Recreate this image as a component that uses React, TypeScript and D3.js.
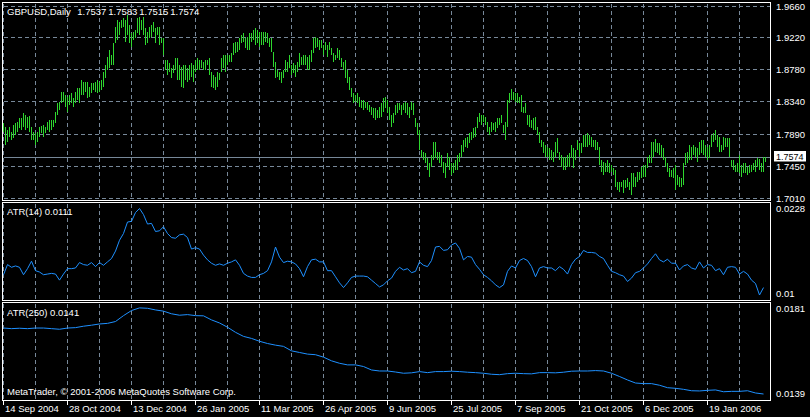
import React from "react";
import * as d3 from "d3";

// ---------- DATA ----------
const symbolTitle = "GBPUSD,Daily";
const lastBar = [1.7537, 1.7583, 1.7515, 1.7574]; // O H L C
const lastClose = 1.7574;
const atr14Last = "0.0111";
const atr250Last = "0.0141";
const copyright = "MetaTrader, \u00A9 2001-2006 MetaQuotes Software Corp.";

const highs = [
  1.8043, 1.7997, 1.7951, 1.7997, 1.7928, 1.8020, 1.8043, 1.8066, 1.8112, 1.8112,
  1.8181, 1.8158, 1.8135, 1.8145, 1.7997, 1.7928, 1.7906, 1.7928, 1.7997, 1.8006,
  1.8020, 1.7997, 1.8066, 1.8089, 1.8089, 1.8089, 1.8204, 1.8319, 1.8342, 1.8480,
  1.8480, 1.8434, 1.8411, 1.8434, 1.8457, 1.8388, 1.8480, 1.8526, 1.8526, 1.8640,
  1.8617, 1.8617, 1.8617, 1.8549, 1.8594, 1.8594, 1.8617, 1.8640, 1.8617, 1.8640,
  1.8755, 1.8847, 1.8962, 1.9054, 1.8985, 1.9146, 1.9375, 1.9467, 1.9444, 1.9467,
  1.9490, 1.9467, 1.9536, 1.9398, 1.9283, 1.9306, 1.9329, 1.9490, 1.9513, 1.9467,
  1.9513, 1.9352, 1.9306, 1.9375, 1.9398, 1.9444, 1.9352, 1.9375, 1.9375, 1.9215,
  1.9215, 1.8916, 1.8916, 1.8870, 1.8801, 1.8847, 1.8939, 1.8939, 1.8847, 1.8824,
  1.8847, 1.8847, 1.8801, 1.8847, 1.8870, 1.8847, 1.8916, 1.8939, 1.8916, 1.8916,
  1.8893, 1.8916, 1.8916, 1.8939, 1.8755, 1.8709, 1.8686, 1.8755, 1.8732, 1.8939,
  1.8985, 1.8985, 1.8985, 1.8985, 1.9008, 1.9146, 1.9169, 1.9169, 1.9215, 1.9260,
  1.9283, 1.9215, 1.9237, 1.9283, 1.9283, 1.9329, 1.9352, 1.9329, 1.9306, 1.9306,
  1.9306, 1.9306, 1.9283, 1.9215, 1.9215, 1.9031, 1.8893, 1.8778, 1.8755, 1.8755,
  1.8778, 1.8916, 1.8893, 1.8985, 1.8847, 1.8870, 1.8847, 1.8893, 1.9008, 1.8962,
  1.8985, 1.8985, 1.8962, 1.8985, 1.9054, 1.9215, 1.9237, 1.9215, 1.9192, 1.9192,
  1.9123, 1.9169, 1.9123, 1.9169, 1.9077, 1.9008, 1.8985, 1.9077, 1.9054, 1.8939,
  1.8893, 1.8916, 1.8778, 1.8686, 1.8526, 1.8457, 1.8434, 1.8457, 1.8411, 1.8365,
  1.8365, 1.8342, 1.8342, 1.8296, 1.8273, 1.8250, 1.8250, 1.8227, 1.8273,
  1.8319, 1.8388, 1.8411, 1.8365, 1.8273, 1.8158, 1.8181, 1.8296, 1.8319, 1.8319, 1.8296,
  1.8319, 1.8342, 1.8319, 1.8273, 1.8342, 1.8319, 1.8112, 1.8043, 1.7951, 1.7676,
  1.7653, 1.7630, 1.7561, 1.7492, 1.7607, 1.7791, 1.7791, 1.7653, 1.7653, 1.7607,
  1.7515, 1.7492, 1.7630, 1.7584, 1.7492, 1.7492, 1.7538, 1.7607, 1.7630, 1.7745,
  1.7814, 1.7837, 1.7860, 1.7906, 1.7928, 1.7974, 1.7997, 1.8135, 1.8181, 1.8158,
  1.8158, 1.8135, 1.8066, 1.7997, 1.8066, 1.8043, 1.8066, 1.8112, 1.8112, 1.8158,
  1.8020, 1.8066, 1.8365, 1.8457, 1.8512, 1.8480, 1.8457, 1.8457, 1.8411, 1.8434,
  1.8273, 1.8319, 1.8158, 1.8158, 1.8089, 1.8112, 1.8135, 1.7997, 1.7928, 1.7814,
  1.7791, 1.7745, 1.7722, 1.7699, 1.7676, 1.7653, 1.7791, 1.7837, 1.7653, 1.7607,
  1.7584, 1.7584, 1.7607, 1.7630, 1.7745, 1.7699, 1.7676, 1.7814, 1.7768, 1.7768,
  1.7883, 1.7883, 1.7906, 1.7883, 1.7860, 1.7814, 1.7814, 1.7791, 1.7722, 1.7538,
  1.7515, 1.7492, 1.7538, 1.7492, 1.7469, 1.7423, 1.7401, 1.7240, 1.7240, 1.7240,
  1.7263, 1.7263, 1.7286, 1.7240, 1.7355, 1.7355, 1.7309, 1.7378, 1.7378, 1.7446,
  1.7469, 1.7469, 1.7584, 1.7607, 1.7791, 1.7791, 1.7823, 1.7768, 1.7768, 1.7745,
  1.7699, 1.7584, 1.7492, 1.7423, 1.7401, 1.7423, 1.7469, 1.7332, 1.7309, 1.7286,
  1.7492, 1.7630, 1.7653, 1.7745, 1.7722, 1.7745, 1.7722, 1.7699, 1.7791, 1.7814,
  1.7814, 1.7745, 1.7722, 1.7745, 1.7883, 1.7906, 1.7951, 1.7883, 1.7860, 1.7745,
  1.7860, 1.7837, 1.7837, 1.7837, 1.7538, 1.7538, 1.7469, 1.7492, 1.7607, 1.7469,
  1.7492, 1.7492, 1.7446, 1.7469, 1.7469, 1.7492, 1.7538, 1.7561, 1.7547, 1.7492, 1.7584, 1.7583,
];

const lows = [
  1.7928, 1.7745, 1.7791, 1.7860, 1.7814, 1.7837, 1.7883, 1.7928, 1.7974, 1.7951,
  1.7997, 1.7951, 1.7974, 1.7928, 1.7814, 1.7814, 1.7745, 1.7791, 1.7860, 1.7906,
  1.7860, 1.7906, 1.7951, 1.7928, 1.7951, 1.7997, 1.8043, 1.8158, 1.8227, 1.8319,
  1.8342, 1.8273, 1.8204, 1.8296, 1.8319, 1.8273, 1.8319, 1.8365, 1.8319, 1.8434,
  1.8434, 1.8480, 1.8388, 1.8411, 1.8457, 1.8503, 1.8480, 1.8457, 1.8480, 1.8503,
  1.8549, 1.8663, 1.8778, 1.8801, 1.8847, 1.8847, 1.9146, 1.9192, 1.9260, 1.9352,
  1.9375, 1.9169, 1.9260, 1.9146, 1.9100, 1.9192, 1.9215, 1.9283, 1.9260, 1.9329,
  1.9260, 1.9123, 1.9146, 1.9215, 1.9237, 1.9306, 1.9146, 1.9260, 1.9123, 1.9146,
  1.8985, 1.8778, 1.8709, 1.8755, 1.8663, 1.8732, 1.8778, 1.8640, 1.8640, 1.8549,
  1.8526, 1.8640, 1.8617, 1.8640, 1.8686, 1.8617, 1.8755, 1.8778, 1.8778, 1.8801,
  1.8778, 1.8778, 1.8847, 1.8709, 1.8549, 1.8526, 1.8503, 1.8549, 1.8640, 1.8755,
  1.8801, 1.8755, 1.8847, 1.8893, 1.8893, 1.8985, 1.9008, 1.9031, 1.9054, 1.9146,
  1.9169, 1.9077, 1.9054, 1.9054, 1.9169, 1.9192, 1.9123, 1.9146, 1.9100, 1.9123,
  1.9123, 1.9169, 1.9146, 1.9100, 1.9031, 1.8824, 1.8663, 1.8686, 1.8640, 1.8594,
  1.8663, 1.8755, 1.8755, 1.8801, 1.8709, 1.8732, 1.8686, 1.8755, 1.8824, 1.8847,
  1.8847, 1.8847, 1.8778, 1.8778, 1.8893, 1.9008, 1.9077, 1.9100, 1.9054, 1.9077,
  1.8985, 1.9054, 1.8962, 1.9054, 1.8985, 1.8893, 1.8916, 1.8939, 1.8916, 1.8824,
  1.8778, 1.8663, 1.8594, 1.8503, 1.8411, 1.8319, 1.8342, 1.8319, 1.8273, 1.8250,
  1.8227, 1.8250, 1.8227, 1.8204, 1.8158, 1.8112, 1.8089, 1.8112, 1.8112,
  1.8135, 1.8204, 1.8250, 1.8181, 1.8089, 1.7997, 1.8043, 1.8158, 1.8181, 1.8227, 1.8158,
  1.8227, 1.8181, 1.8158, 1.8112, 1.8227, 1.8158, 1.7997, 1.7883, 1.7676, 1.7584,
  1.7538, 1.7492, 1.7401, 1.7309, 1.7446, 1.7538, 1.7561, 1.7538, 1.7492, 1.7446,
  1.7355, 1.7286, 1.7446, 1.7401, 1.7332, 1.7355, 1.7401, 1.7401, 1.7515, 1.7584,
  1.7653, 1.7722, 1.7699, 1.7768, 1.7814, 1.7837, 1.7860, 1.7974, 1.8066, 1.8020,
  1.8066, 1.8020, 1.7928, 1.7883, 1.7928, 1.7951, 1.7928, 1.7974, 1.8020, 1.8043,
  1.7906, 1.7814, 1.7997, 1.8319, 1.8365, 1.8365, 1.8342, 1.8319, 1.8319, 1.8204,
  1.8181, 1.8181, 1.8020, 1.7997, 1.7974, 1.7951, 1.7951, 1.7883, 1.7768, 1.7722,
  1.7630, 1.7584, 1.7584, 1.7538, 1.7538, 1.7515, 1.7584, 1.7630, 1.7538, 1.7446,
  1.7401, 1.7401, 1.7446, 1.7446, 1.7561, 1.7423, 1.7538, 1.7676, 1.7584, 1.7630,
  1.7722, 1.7722, 1.7722, 1.7745, 1.7722, 1.7722, 1.7676, 1.7676, 1.7469, 1.7378,
  1.7332, 1.7378, 1.7378, 1.7355, 1.7378, 1.7332, 1.7171, 1.7125, 1.7102, 1.7171,
  1.7079, 1.7148, 1.7171, 1.7125, 1.7056, 1.7171, 1.7171, 1.7240, 1.7263, 1.7286,
  1.7309, 1.7309, 1.7423, 1.7492, 1.7492, 1.7584, 1.7653, 1.7630, 1.7607, 1.7584,
  1.7538, 1.7446, 1.7378, 1.7309, 1.7309, 1.7286, 1.7125, 1.7194, 1.7171, 1.7171,
  1.7194, 1.7469, 1.7492, 1.7538, 1.7538, 1.7607, 1.7584, 1.7515, 1.7607, 1.7630,
  1.7607, 1.7584, 1.7538, 1.7561, 1.7722, 1.7791, 1.7814, 1.7722, 1.7653, 1.7653,
  1.7676, 1.7722, 1.7722, 1.7584, 1.7446, 1.7401, 1.7378, 1.7378, 1.7355, 1.7309,
  1.7355, 1.7355, 1.7332, 1.7355, 1.7378, 1.7401, 1.7378, 1.7446, 1.7401, 1.7378, 1.7378, 1.7515,
];

// ATR(14), one reading every 2 bars
const atr14Step = 2;
const atr14 = [
  0.0130, 0.0145, 0.0141, 0.0143, 0.0141, 0.0130, 0.0139, 0.0150, 0.0136, 0.0134,
  0.0130, 0.0131, 0.0132, 0.0131, 0.0122, 0.0131, 0.0139, 0.0139, 0.0140, 0.0148,
  0.0145, 0.0144, 0.0148, 0.0142, 0.0148, 0.0144, 0.0149, 0.0154, 0.0165, 0.0181,
  0.0191, 0.0208, 0.0209, 0.0222, 0.0228, 0.0219, 0.0205, 0.0206, 0.0194, 0.0195,
  0.0201, 0.0191, 0.0185, 0.0184, 0.0189, 0.0190, 0.0185, 0.0168, 0.0170, 0.0168,
  0.0159, 0.0152, 0.0147, 0.0144, 0.0146, 0.0144, 0.0147, 0.0149, 0.0152, 0.0144,
  0.0132, 0.0128, 0.0126, 0.0126, 0.0130, 0.0132, 0.0136, 0.0149, 0.0171, 0.0156,
  0.0148, 0.0150, 0.0149, 0.0146, 0.0139, 0.0127, 0.0142, 0.0152, 0.0153, 0.0149,
  0.0149, 0.0136, 0.0136, 0.0127, 0.0118, 0.0111, 0.0118, 0.0126, 0.0128, 0.0128,
  0.0128, 0.0127, 0.0122, 0.0117, 0.0112, 0.0115, 0.0121, 0.0125, 0.0135, 0.0141,
  0.0137, 0.0139, 0.0133, 0.0135, 0.0149, 0.0144, 0.0142, 0.0151, 0.0171, 0.0172,
  0.0166, 0.0167, 0.0174, 0.0177, 0.0169, 0.0152, 0.0157, 0.0156, 0.0145, 0.0138,
  0.0130, 0.0126, 0.0121, 0.0115, 0.0111, 0.0115, 0.0135, 0.0143, 0.0140, 0.0151,
  0.0154, 0.0151, 0.0142, 0.0127, 0.0140, 0.0142, 0.0140, 0.0140, 0.0136, 0.0142,
  0.0138, 0.0131, 0.0145, 0.0153, 0.0157, 0.0166, 0.0163, 0.0163, 0.0162, 0.0157,
  0.0154, 0.0144, 0.0135, 0.0133, 0.0130, 0.0128, 0.0120, 0.0125, 0.0133, 0.0135,
  0.0140, 0.0146, 0.0154, 0.0161, 0.0152, 0.0149, 0.0153, 0.0147, 0.0147, 0.0137,
  0.0143, 0.0145, 0.0140, 0.0138, 0.0149, 0.0140, 0.0145, 0.0144, 0.0136, 0.0139,
  0.0130, 0.0141, 0.0142, 0.0141, 0.0131, 0.0135, 0.0131, 0.0122, 0.0117, 0.0100, 0.0111,
];

// ATR(250), one reading every 4 bars
const atr250Step = 4;
const atr250 = [
  0.01714, 0.01711, 0.01713, 0.01711, 0.01714, 0.01714, 0.01711, 0.01708, 0.01714, 0.01716,
  0.01723, 0.01728, 0.01734, 0.01737, 0.01746, 0.01775, 0.01800, 0.01813, 0.01811, 0.01803,
  0.01797, 0.01784, 0.01777, 0.01780, 0.01775, 0.01774, 0.01754, 0.01739, 0.01718, 0.01693,
  0.01673, 0.01663, 0.01649, 0.01638, 0.01630, 0.01624, 0.01602, 0.01594, 0.01586, 0.01583,
  0.01571, 0.01553, 0.01541, 0.01533, 0.01533, 0.01525, 0.01508, 0.01503, 0.01503, 0.01498,
  0.01492, 0.01494, 0.01500, 0.01495, 0.01500, 0.01500, 0.01502, 0.01500, 0.01497, 0.01495,
  0.01492, 0.01487, 0.01485, 0.01490, 0.01492, 0.01490, 0.01489, 0.01495, 0.01495, 0.01494,
  0.01497, 0.01502, 0.01503, 0.01503, 0.01505, 0.01503, 0.01492, 0.01476, 0.01459, 0.01444,
  0.01441, 0.01441, 0.01433, 0.01421, 0.01418, 0.01413, 0.01406, 0.01405, 0.01408, 0.01410,
  0.01401, 0.01403, 0.01403, 0.01406, 0.01395, 0.01390,
];

const priceTicks = [1.966, 1.922, 1.878, 1.834, 1.789, 1.745, 1.701];
const priceDomain = [1.701, 1.966];
const atr14Domain = [0.01, 0.0228];
const atr14Labels = ["0.0228", "0.01"];
const atr250Domain = [0.0139, 0.0181];
const atr250Labels = ["0.0181", "0.0139"];

const dateLabels = [
  "14 Sep 2004", "28 Oct 2004", "13 Dec 2004", "26 Jan 2005", "11 Mar 2005", "26 Apr 2005",
  "9 Jun 2005", "25 Jul 2005", "7 Sep 2005", "21 Oct 2005", "6 Dec 2005", "19 Jan 2006",
];
const dateLabelBars = [0, 32, 64, 96, 128, 160, 192, 224, 256, 288, 320, 352];
const gridBarStep = 16;

// ---------- STYLE ----------
const W = 810;
const H = 417;
const BG = "#000000";
const FG = "#ffffff";
const GRID = "#778899";
const BAR = "#2ed62e";
const LINE = "#1e90ff";
const FONT = "'Liberation Sans', Arial, sans-serif";
const FS = 9.5;

const left = 2.5;
const right = 770.5;
const panels = {
  main: { top: 2.5, bottom: 200.5 },
  a14: { top: 202.5, bottom: 300.5 },
  a250: { top: 302.5, bottom: 400.5 },
};

export default function App() {
  const n = highs.length;
  const x = d3.scaleLinear().domain([0, n - 1]).range([3.5, 3.5 + 2 * (n - 1)]);
  const yP = d3.scaleLinear().domain(priceDomain).range([198.5, 6]);
  const y14 = d3.scaleLinear().domain(atr14Domain).range([295, 208.5]);
  const y250 = d3.scaleLinear().domain(atr250Domain).range([394, 308.5]);

  const line14 = d3
    .line<number>()
    .x((_, k) => x(k * atr14Step))
    .y((v) => y14(v));
  const line250 = d3
    .line<number>()
    .x((_, k) => x(k * atr250Step))
    .y((v) => y250(v));

  const gridBars = d3.range(0, n, gridBarStep);
  const crisp = (v: number) => Math.round(v - 0.5) + 0.5;
  const yClose = crisp(yP(lastClose));

  const textStyle: React.CSSProperties = { fontFamily: FONT, fontSize: FS };

  return (
    <svg
      width={W}
      height={H}
      viewBox={`0 0 ${W} ${H}`}
      style={{ position: "absolute", left: 0, top: 0, display: "block", background: BG }}
    >
      <rect x={0} y={0} width={W} height={H} fill={BG} />

      {/* vertical grid */}
      <g stroke={GRID} strokeWidth={1} strokeDasharray="4,3" shapeRendering="crispEdges">
        {Object.values(panels).map((p, pi) =>
          gridBars.map((b) => (
            <line key={`vg${pi}-${b}`} x1={x(b)} x2={x(b)} y1={p.top + 1} y2={p.bottom} />
          ))
        )}
        {priceTicks.map((t) => (
          <line key={`hg${t}`} x1={left + 1} x2={right} y1={crisp(yP(t))} y2={crisp(yP(t))} />
        ))}
      </g>

      {/* price line */}
      <line
        x1={left + 1}
        x2={right}
        y1={yClose}
        y2={yClose}
        stroke={GRID}
        strokeWidth={1}
        shapeRendering="crispEdges"
      />

      {/* bars */}
      <g stroke={BAR} strokeWidth={1} shapeRendering="crispEdges">
        {highs.map((h, i) => {
          const y1 = Math.round(yP(h));
          const y2 = Math.max(Math.round(yP(lows[i])), y1 + 1);
          return <line key={i} x1={x(i)} x2={x(i)} y1={y1} y2={y2} />;
        })}
      </g>

      {/* ATR lines */}
      <path d={line14(atr14) || ""} fill="none" stroke={LINE} strokeWidth={1} />
      <path d={line250(atr250) || ""} fill="none" stroke={LINE} strokeWidth={1} />

      {/* panel frames */}
      <g fill="none" stroke={FG} strokeWidth={1} shapeRendering="crispEdges">
        {Object.values(panels).map((p, pi) => (
          <rect key={pi} x={left} y={p.top} width={right - left} height={p.bottom - p.top} />
        ))}
      </g>

      {/* date axis */}
      <g stroke={FG} strokeWidth={1} shapeRendering="crispEdges">
        {dateLabelBars.map((b) => (
          <line key={`dt${b}`} x1={x(b)} x2={x(b)} y1={400.5} y2={405} />
        ))}
      </g>
      <g fill={FG} style={textStyle}>
        {dateLabelBars.map((b, k) => (
          <text key={`dl${b}`} x={x(b) + 1.5} y={411.5}>
            {dateLabels[k]}
          </text>
        ))}
      </g>

      {/* right price axis */}
      <g fill={FG} style={textStyle}>
        {priceTicks.map((t) => (
          <text key={`pl${t}`} x={776} y={yP(t) + 3.5}>
            {t.toFixed(4)}
          </text>
        ))}
        <text x={776} y={y14(atr14Domain[1]) + 3.5}>{atr14Labels[0]}</text>
        <text x={776} y={y14(atr14Domain[0]) + 2}>{atr14Labels[1]}</text>
        <text x={776} y={y250(atr250Domain[1]) + 3.5}>{atr250Labels[0]}</text>
        <text x={776} y={y250(atr250Domain[0]) + 3}>{atr250Labels[1]}</text>
      </g>

      {/* current price marker */}
      <rect x={774} y={yClose - 6.5} width={32} height={10.5} fill={FG} />
      <text
        x={776}
        y={yClose + 2.5}
        fill={BG}
        style={{ fontFamily: FONT, fontSize: 9 }}
      >
        {lastClose.toFixed(4)}
      </text>

      {/* titles */}
      <g fill={FG} style={textStyle}>
        <text x={7} y={15}>{symbolTitle}</text>
        {lastBar.map((v, k) => (
          <text key={`ob${k}`} x={77.3 + 31 * k} y={15}>
            {v.toFixed(4)}
          </text>
        ))}
        <text x={7} y={215}>{`ATR(14) ${atr14Last}`}</text>
        <text x={7} y={316}>{`ATR(250) ${atr250Last}`}</text>
        <text x={7} y={394.5}>{copyright}</text>
      </g>
    </svg>
  );
}
